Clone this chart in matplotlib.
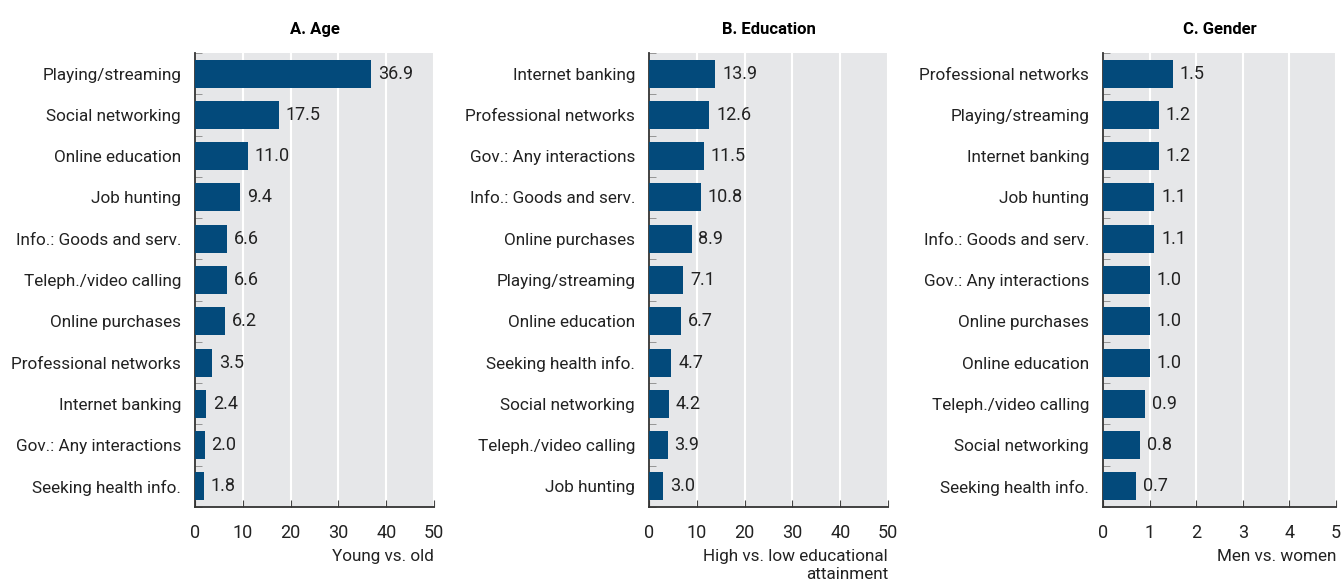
import matplotlib.pyplot as plt

# Data
age_labels = ['Playing/streaming', 'Social networking', 'Online education', 'Job hunting',
              'Info.: Goods and serv.', 'Teleph./video calling', 'Online purchases',
              'Professional networks', 'Internet banking', 'Gov.: Any interactions',
              'Seeking health info.']
age_values = [36.9, 17.5, 11.0, 9.4, 6.6, 6.6, 6.2, 3.5, 2.4, 2.0, 1.8]

edu_labels = ['Internet banking', 'Professional networks', 'Gov.: Any interactions',
              'Info.: Goods and serv.', 'Online purchases', 'Playing/streaming',
              'Online education', 'Seeking health info.', 'Social networking',
              'Teleph./video calling', 'Job hunting']
edu_values = [13.9, 12.6, 11.5, 10.8, 8.9, 7.1, 6.7, 4.7, 4.2, 3.9, 3.0]

gen_labels = ['Professional networks', 'Playing/streaming', 'Internet banking', 'Job hunting',
              'Info.: Goods and serv.', 'Gov.: Any interactions', 'Online purchases',
              'Online education', 'Teleph./video calling', 'Social networking',
              'Seeking health info.']
gen_values = [1.5, 1.2, 1.2, 1.1, 1.1, 1.0, 1.0, 1.0, 0.9, 0.8, 0.7]

titles = ['A. Age', 'B. Education', 'C. Gender']
xlabels = ['Young vs. old', 'High vs. low educational\nattainment', 'Men vs. women']
xmaxes = [50, 50, 5]
xsteps = [10, 10, 1]

plt.rcParams['font.family'] = ['Roboto', 'DejaVu Sans']
plt.rcParams['font.size'] = 12

bar_color = '#034a7b'
bg = '#e6e7e9'
txt = '#222222'

fig = plt.figure(figsize=(13.43, 5.85), dpi=100)
lefts = [195 / 1343, 649 / 1343, 1103 / 1343]
widths = [239 / 1343, 239 / 1343, 233 / 1343]
bottom = 1 - 507 / 585
height = 454 / 585

panels = [(age_labels, age_values), (edu_labels, edu_values), (gen_labels, gen_values)]
for i, (labels, values) in enumerate(panels):
    ax = fig.add_axes([lefts[i], bottom, widths[i], height])
    ax.set_facecolor(bg)
    y = list(range(len(labels)))
    ax.barh(y, values, height=0.68, color=bar_color, zorder=3)
    ax.set_ylim(len(labels) - 0.5, -0.5)
    ax.set_xlim(0, xmaxes[i])
    ticks = [k * xsteps[i] for k in range(6)]
    ax.set_xticks(ticks)
    ax.set_xticklabels([str(t) for t in ticks])
    ax.set_yticks(y)
    ax.set_yticklabels(labels)
    ax.tick_params(axis='y', length=0, pad=10, labelsize=12.3, labelcolor=txt)
    ax.set_yticks([k - 0.5 for k in range(len(labels) + 1)], minor=True)
    ax.tick_params(axis='y', which='minor', length=5, direction='in', color='#888888')
    ax.tick_params(axis='x', direction='in', length=5, color='#444444', pad=12,
                   labelsize=13, labelcolor=txt)
    ax.grid(axis='x', color='white', linewidth=1.5, zorder=1)
    for s in ['top', 'right']:
        ax.spines[s].set_visible(False)
    ax.spines['left'].set_color('#333333')
    ax.spines['bottom'].set_color('#333333')
    ax.spines['left'].set_linewidth(1.3)
    ax.spines['bottom'].set_linewidth(1.3)
    for yy, v in zip(y, values):
        ax.annotate(f'{v:.1f}', (v, yy), xytext=(5, 0), textcoords='offset points',
                    va='center', ha='left', fontsize=13, color=txt, zorder=4)
    ax.set_title(titles[i], fontweight='bold', fontsize=12, pad=14)
    ax.set_xlabel(xlabels[i], ha='right', x=1.0, fontsize=12.3, labelpad=5,
                  multialignment='right', linespacing=1.25, color=txt)

fig.savefig('out.png', dpi=100)
